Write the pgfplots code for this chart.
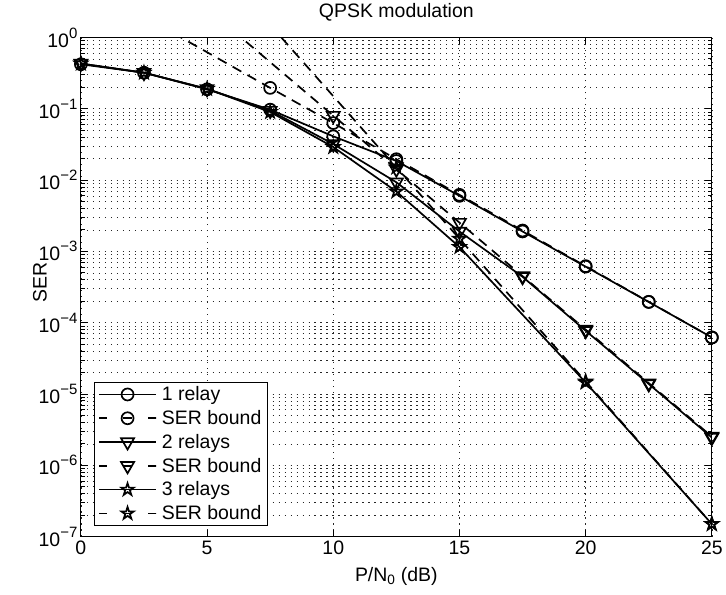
\documentclass[border=0pt]{standalone}
\usepackage{fontspec}
\setmainfont{Liberation Sans}
\usepackage{pgfplots}
\pgfplotsset{compat=1.18}

\pgfdeclareplotmark{pentagram}{%
  \pgfpathmoveto{\pgfpointpolar{90}{\pgfplotmarksize}}%
  \pgfpathlineto{\pgfpointpolar{126}{0.382*\pgfplotmarksize}}%
  \pgfpathlineto{\pgfpointpolar{162}{\pgfplotmarksize}}%
  \pgfpathlineto{\pgfpointpolar{198}{0.382*\pgfplotmarksize}}%
  \pgfpathlineto{\pgfpointpolar{234}{\pgfplotmarksize}}%
  \pgfpathlineto{\pgfpointpolar{270}{0.382*\pgfplotmarksize}}%
  \pgfpathlineto{\pgfpointpolar{306}{\pgfplotmarksize}}%
  \pgfpathlineto{\pgfpointpolar{342}{0.382*\pgfplotmarksize}}%
  \pgfpathlineto{\pgfpointpolar{18}{\pgfplotmarksize}}%
  \pgfpathlineto{\pgfpointpolar{54}{0.382*\pgfplotmarksize}}%
  \pgfpathclose
  \pgfusepathqstroke}
\newcommand\tp[1]{10\raisebox{9pt}{\fontsize{15}{15}\selectfont #1}}

\begin{document}
\begin{tikzpicture}
\begin{axis}[
  scale only axis, width=632pt, height=500pt,
  ymode=log, xmin=0, xmax=25, ymin=1e-7, ymax=1,
  xtick={0,5,...,25},
  ytick={1e-7,1e-6,1e-5,1e-4,1e-3,1e-2,1e-1,1},
  yticklabels={\tp{−7},\tp{−6},\tp{−5},\tp{−4},\tp{−3},\tp{−2},\tp{−1},\tp{0}},
  grid=both,
  major grid style={black!85, line width=0.6pt, dash pattern=on 1.2pt off 4.8pt},
  minor grid style={black!85, line width=0.6pt, dash pattern=on 1.2pt off 4.8pt},
  tick align=inside,
  major tick length=7pt, minor tick length=4pt,
  axis line style={line width=0.9pt},
  every tick/.style={black, line width=0.8pt},
  ticklabel style={font=\fontsize{19.5}{22}\selectfont},
  xticklabel style={yshift=-1pt},
  /pgf/number format/assume math mode=true,
  title={QPSK modulation},
  title style={at={(0.5,1.028)}, anchor=base, font=\fontsize{19.5}{22}\selectfont},
  xlabel={P/N\textsubscript{0} (dB)},
  xlabel style={at={(0.5,-0.09)}, anchor=base, font=\fontsize{19.5}{22}\selectfont},
  ylabel={SER},
  ylabel style={at={(-0.065,0.51)}, anchor=center, font=\fontsize{19.5}{22}\selectfont},
  clip mode=individual,
  legend style={at={(0.0206,0.022)}, anchor=south west, draw=black, line width=0.8pt,
    font=\fontsize{19.5}{22}\selectfont, cells={anchor=west}, inner xsep=4pt, inner ysep=2pt, row sep=4.2pt, column sep=3pt},
  legend image code/.code={\draw[#1, mark indices={2}] plot coordinates {(0pt,0pt) (28.5pt,0pt) (57pt,0pt)};},
  every axis plot/.append style={black, line width=1.7pt},
]
% 1 relay
\addplot[solid, mark=o, mark size=6pt] coordinates {
(0,0.42) (2.5,0.32) (5,0.187) (7.5,0.097) (10,0.041) (12.5,0.0185) (15,0.006) (17.5,0.0019) (20,6.1e-4) (22.5,1.95e-4) (25,6.2e-5)};
\addlegendentry{1 relay}
\addplot[dash pattern=on 10pt off 7pt, mark=o, mark size=6pt, mark options={solid}, mark indices={2,...,10},
  legend image post style={dash pattern=on 8pt off 16pt on 9pt off 16pt on 8pt off 0pt}] coordinates {
(2.5,1.96) (5,0.62) (7.5,0.196) (10,0.063) (12.5,0.0196) (15,0.0062) (17.5,0.00196) (20,6.2e-4) (22.5,1.96e-4) (25,6.2e-5)};
\addlegendentry{SER bound}
% 2 relays
\addplot[solid, mark=triangle, mark size=7.5pt, mark options={rotate=180}] coordinates {
(0,0.43) (2.5,0.32) (5,0.19) (7.5,0.094) (10,0.032) (12.5,0.0093) (15,0.0019) (17.5,4.4e-4) (20,7.7e-5) (22.5,1.38e-5) (25,2.45e-6)};
\addlegendentry{2 relays}
\addplot[dash pattern=on 10pt off 7pt, mark=triangle, mark size=7.5pt, mark options={solid,rotate=180}, mark indices={2,...,9},
  legend image post style={dash pattern=on 8pt off 16pt on 9pt off 16pt on 8pt off 0pt}] coordinates {
(5,2.53) (7.5,0.45) (10,0.08) (12.5,0.0142) (15,0.00253) (17.5,4.5e-4) (20,8.0e-5) (22.5,1.42e-5) (25,2.53e-6)};
\addlegendentry{SER bound}
% 3 relays
\addplot[solid, mark=pentagram, mark size=6.5pt] coordinates {
(0,0.43) (2.5,0.32) (5,0.19) (7.5,0.09) (10,0.029) (12.5,0.0069) (15,0.00115) (20,1.45e-5) (25,1.5e-7)};
\addlegendentry{3 relays}
\addplot[dash pattern=on 10pt off 7pt, mark=pentagram, mark size=6.5pt, mark options={solid}, mark indices={2,...,6},
  legend image post style={dash pattern=on 8pt off 16pt on 9pt off 16pt on 8pt off 0pt}] coordinates {
(7.5,1.5) (10,0.15) (12.5,0.015) (15,1.5e-3) (20,1.5e-5) (25,1.5e-7)};
\addlegendentry{SER bound}
\end{axis}
\path ([xshift=-81pt,yshift=-58pt]current axis.south west) rectangle ([xshift=13pt,yshift=33pt]current axis.north east);
\end{tikzpicture}
\end{document}
